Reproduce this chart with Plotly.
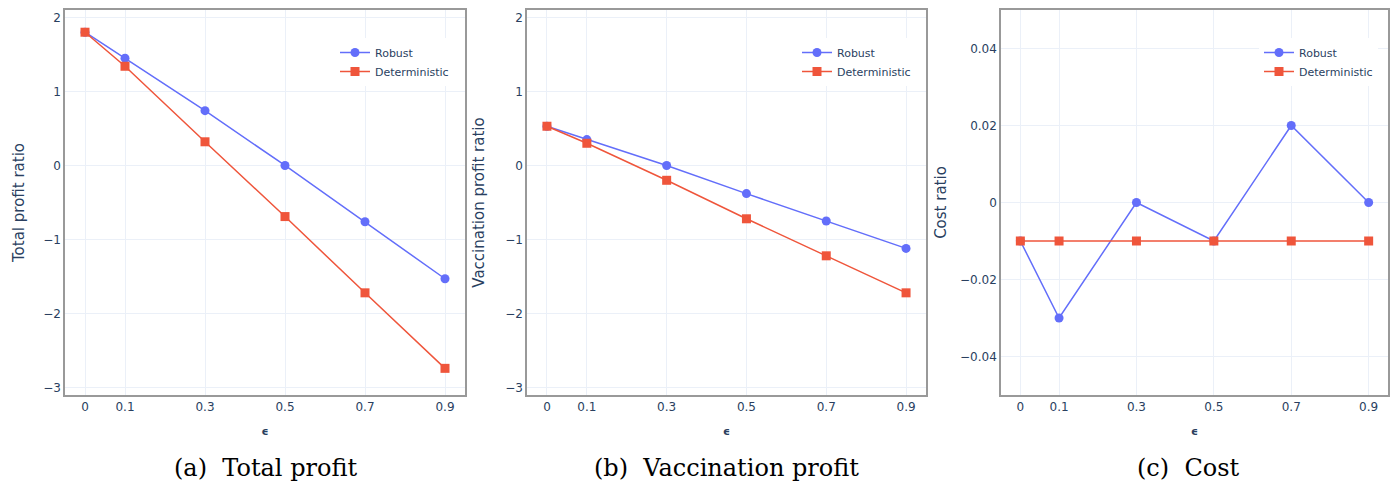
import plotly.graph_objects as go

W, H = 1395, 485

eps = [0, 0.1, 0.3, 0.5, 0.7, 0.9]
eps_ticks = ["0", "0.1", "0.3", "0.5", "0.7", "0.9"]

total_robust = [1.80, 1.45, 0.74, 0.00, -0.76, -1.53]
total_det = [1.80, 1.34, 0.32, -0.69, -1.72, -2.74]

vacc_robust = [0.53, 0.35, 0.00, -0.38, -0.75, -1.12]
vacc_det = [0.53, 0.30, -0.20, -0.72, -1.22, -1.72]

cost_robust = [-0.01, -0.03, 0.00, -0.01, 0.02, 0.00]
cost_det = [-0.01, -0.01, -0.01, -0.01, -0.01, -0.01]

ylabels = ["Total profit ratio", "Vaccination profit ratio", "Cost ratio"]
captions = ["(a)\u00a0\u00a0Total profit", "(b)\u00a0\u00a0Vaccination profit", "(c)\u00a0\u00a0Cost"]
series = [(total_robust, total_det), (vacc_robust, vacc_det), (cost_robust, cost_det)]

BLUE = "#636EFA"
RED = "#EF553B"
FONT = "DejaVu Sans"
TXT = "#2a3f5f"

# pixel layout of plot areas
px_x = [(65, 465), (527, 926), (1001, 1388)]
px_y = (10, 395)
caption_x = [265, 726, 1188]
legend_left = [335, 797, 1259]
standoffs = [15, 17, 10]

fig = go.Figure()
for i, (rob, det) in enumerate(series):
    n = "" if i == 0 else str(i + 1)
    lg = "legend" if i == 0 else f"legend{i+1}"
    fig.add_trace(go.Scatter(
        x=eps, y=rob, mode="lines+markers", name="Robust",
        line=dict(color=BLUE, width=1.5),
        marker=dict(symbol="circle", size=9, color=BLUE),
        xaxis="x" + n, yaxis="y" + n, legend=lg))
    fig.add_trace(go.Scatter(
        x=eps, y=det, mode="lines+markers", name="Deterministic",
        line=dict(color=RED, width=1.5),
        marker=dict(symbol="square", size=9, color=RED),
        xaxis="x" + n, yaxis="y" + n, legend=lg))

layout = dict(
    width=W, height=H,
    template="plotly_white",
    margin=dict(l=0, r=0, t=0, b=0),
    font=dict(family=FONT, size=12, color=TXT),
    paper_bgcolor="white", plot_bgcolor="white",
)

ydom = [1 - px_y[1] / H, 1 - px_y[0] / H]
yranges = [[-3.1, 2.1], [-3.1, 2.1], [-0.05, 0.05]]
ytickvals = [[-3, -2, -1, 0, 1, 2], [-3, -2, -1, 0, 1, 2], [-0.04, -0.02, 0, 0.02, 0.04]]
yticktext = [["\u22123", "\u22122", "\u22121", "0", "1", "2"],
             ["\u22123", "\u22122", "\u22121", "0", "1", "2"],
             ["\u22120.04", "\u22120.02", "0", "0.02", "0.04"]]

for i in range(3):
    n = "" if i == 0 else str(i + 1)
    xa = "xaxis" + n
    ya = "yaxis" + n
    layout[xa] = dict(
        domain=[px_x[i][0] / W, px_x[i][1] / W],
        anchor="y" + n,
        range=[-0.05, 0.95],
        tickvals=eps, ticktext=eps_ticks,
        showline=True, mirror=True, linecolor="#999999", linewidth=1.5,
        gridcolor="#EBF0F8", zeroline=False,
        tickfont=dict(size=12, color=TXT),
        title=dict(text="<b>\u03f5</b>", font=dict(size=11, color=TXT), standoff=14),
    )
    layout[ya] = dict(
        domain=ydom,
        anchor="x" + n,
        range=yranges[i],
        tickvals=ytickvals[i], ticktext=yticktext[i],
        showline=True, mirror=True, linecolor="#999999", linewidth=1.5,
        gridcolor="#EBF0F8", zeroline=False,
        tickfont=dict(size=12, color=TXT),
        title=dict(text=ylabels[i], font=dict(size=15, color=TXT), standoff=standoffs[i]),
    )
    lg = "legend" if i == 0 else f"legend{i+1}"
    layout[lg] = dict(
        x=legend_left[i] / W, y=1 - 38 / H,
        xanchor="left", yanchor="top",
        bgcolor="white", borderwidth=0,
        font=dict(size=11, color=TXT),
        tracegroupgap=0,
    )

annotations = []
for i in range(3):
    annotations.append(dict(
        text=captions[i], x=caption_x[i] / W, y=1 - 468 / H,
        xref="paper", yref="paper", xanchor="center", yanchor="middle",
        showarrow=False,
        font=dict(family="DejaVu Serif", size=24, color="black"),
    ))
layout["annotations"] = annotations

fig.update_layout(**layout)
fig.write_html("out.html")
